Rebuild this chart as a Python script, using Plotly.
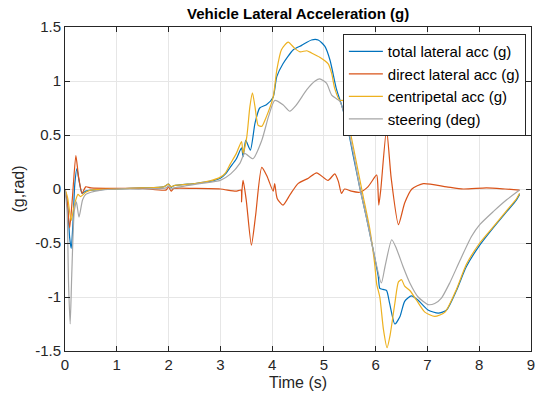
import plotly.graph_objects as go

t_total = [0, 0.05, 0.09, 0.12, 0.15, 0.19, 0.23, 0.27, 0.33, 0.4, 0.5, 0.7, 1.0, 1.5, 1.9, 2.0, 2.05, 2.1, 2.5, 2.8, 3.0, 3.1, 3.19, 3.31, 3.41, 3.44, 3.49, 3.58, 3.67, 3.76, 3.89, 4.02, 4.09, 4.21, 4.41, 4.57, 4.76, 4.89, 5.02, 5.12, 5.24, 5.34, 5.44, 5.57, 5.69, 5.82, 5.95, 6.05, 6.08, 6.14, 6.21, 6.27, 6.37, 6.47, 6.56, 6.69, 6.82, 7.01, 7.21, 7.37, 7.56, 7.75, 8.01, 8.27, 8.53, 8.72, 8.78]
y_total = [0, -0.15, -0.45, -0.55, -0.35, 0.05, 0.19, 0.08, -0.04, -0.02, -0.01, -0.005, 0, 0.01, 0.02, 0.045, 0.015, 0.03, 0.05, 0.07, 0.10, 0.14, 0.2, 0.28, 0.38, 0.30, 0.45, 0.36, 0.61, 0.75, 0.78, 0.85, 1.04, 1.16, 1.29, 1.33, 1.38, 1.38, 1.32, 1.19, 0.93, 0.78, 0.61, 0.30, 0.02, -0.26, -0.56, -0.81, -0.92, -0.93, -0.94, -1.06, -1.25, -1.18, -1.04, -0.99, -1.03, -1.12, -1.15, -1.12, -0.94, -0.72, -0.52, -0.36, -0.21, -0.10, -0.05]

t_direct = [0, 0.04, 0.09, 0.14, 0.21, 0.26, 0.33, 0.4, 0.5, 1.0, 1.5, 1.95, 2.0, 2.05, 2.1, 2.5, 3.0, 3.3, 3.40, 3.41, 3.42, 3.44, 3.5, 3.6, 3.68, 3.8, 3.9, 4.02, 4.05, 4.08, 4.1, 4.21, 4.35, 4.5, 4.7, 4.86, 5.08, 5.21, 5.28, 5.34, 5.4, 5.53, 5.69, 5.85, 6.02, 6.04, 6.06, 6.1, 6.21, 6.3, 6.44, 6.56, 6.7, 6.92, 7.37, 7.69, 8.14, 8.5, 8.78]
y_direct = [0, -0.1, -0.36, -0.1, 0.31, 0.12, -0.04, 0.02, 0.01, 0.005, 0.005, -0.01, 0.02, -0.02, 0.005, 0.005, 0.0, -0.02, -0.01, -0.12, 0.0, 0.08, -0.1, -0.52, -0.25, 0.20, 0.12, -0.02, 0.05, -0.05, -0.09, -0.15, -0.05, 0.05, 0.1, 0.15, 0.08, 0.14, 0.07, -0.04, 0.0, -0.02, -0.03, 0.02, 0.13, 0.05, -0.15, 0.0, 0.55, 0.1, -0.33, -0.13, 0.0, 0.05, 0.02, 0.0, 0.01, 0.0, -0.01]

t_centri = [0, 0.05, 0.12, 0.18, 0.25, 0.3, 0.4, 0.5, 1.0, 1.5, 1.9, 2.0, 2.05, 2.1, 2.5, 2.8, 3.0, 3.1, 3.19, 3.31, 3.41, 3.44, 3.51, 3.57, 3.62, 3.67, 3.73, 3.80, 3.89, 4.02, 4.09, 4.18, 4.31, 4.44, 4.54, 4.67, 4.76, 4.92, 5.08, 5.15, 5.21, 5.31, 5.37, 5.50, 5.63, 5.76, 5.89, 5.98, 6.02, 6.08, 6.15, 6.22, 6.28, 6.37, 6.44, 6.50, 6.56, 6.66, 6.79, 6.95, 7.14, 7.34, 7.56, 7.75, 8.01, 8.27, 8.53, 8.72, 8.78]
y_centri = [0, -0.08, -0.29, -0.15, -0.05, -0.07, -0.03, -0.01, 0, 0.01, 0.02, 0.045, 0.02, 0.03, 0.05, 0.075, 0.11, 0.15, 0.23, 0.33, 0.44, 0.33, 0.48, 0.76, 0.89, 0.76, 0.59, 0.58, 0.67, 0.85, 1.10, 1.29, 1.36, 1.30, 1.27, 1.28, 1.26, 1.22, 1.16, 1.07, 0.93, 0.82, 0.82, 0.55, 0.24, -0.07, -0.38, -0.69, -0.88, -1.0, -1.3, -1.47, -1.35, -1.06, -0.86, -0.84, -0.90, -0.94, -1.03, -1.14, -1.18, -1.14, -0.93, -0.70, -0.50, -0.35, -0.20, -0.09, -0.04]

t_steer = [0, 0.04, 0.07, 0.1, 0.13, 0.18, 0.22, 0.27, 0.34, 0.4, 0.5, 0.7, 1.0, 1.5, 1.95, 2.0, 2.05, 2.1, 2.6, 3.0, 3.2, 3.38, 3.47, 3.63, 3.80, 3.93, 4.05, 4.21, 4.34, 4.47, 4.67, 4.83, 4.92, 5.05, 5.15, 5.31, 5.44, 5.57, 5.69, 5.82, 5.95, 6.11, 6.18, 6.31, 6.40, 6.53, 6.66, 6.82, 7.01, 7.14, 7.27, 7.43, 7.63, 7.85, 8.01, 8.27, 8.53, 8.78]
y_steer = [0, -0.2, -0.9, -1.25, -0.8, -0.2, -0.12, -0.26, -0.1, -0.05, -0.03, -0.01, 0, 0.0, 0.01, 0.03, 0.0, 0.01, 0.05, 0.08, 0.14, 0.24, 0.33, 0.28, 0.45, 0.67, 0.82, 0.78, 0.72, 0.78, 0.92, 1.00, 1.02, 0.98, 0.87, 0.81, 0.61, 0.33, 0.02, -0.26, -0.56, -0.87, -0.72, -0.47, -0.55, -0.72, -0.87, -1.0, -1.07, -1.06, -1.01, -0.87, -0.66, -0.44, -0.33, -0.21, -0.10, -0.01]

names = ["total lateral acc (g)", "direct lateral acc (g)", "centripetal acc (g)", "steering (deg)"]
colors = ["#0072BD", "#D95319", "#EDB120", "#A6A6A6"]

x_ticks = [0, 1, 2, 3, 4, 5, 6, 7, 8, 9]
y_ticks = [-1.5, -1, -0.5, 0, 0.5, 1, 1.5]
y_tick_text = ["-1.5", "-1", "-0.5", "0", "0.5", "1", "1.5"]

FONT = "Liberation Sans, Arial"

fig = go.Figure()
series = [(t_total, y_total), (t_direct, y_direct), (t_centri, y_centri), (t_steer, y_steer)]
for (tx, ty), nm, c in zip(series, names, colors):
    fig.add_trace(go.Scatter(x=tx, y=ty, mode="lines", name=nm,
                             line=dict(color=c, width=1.2, shape="spline", smoothing=0.6)))

axis_common = dict(showline=True, linecolor="#262626", linewidth=1, mirror="ticks",
                   ticks="inside", ticklen=5, tickcolor="#262626", automargin=False,
                   showgrid=True, gridcolor="#E6E6E6", gridwidth=1, zeroline=False,
                   tickfont=dict(family=FONT, size=15, color="#262626"))

fig.update_xaxes(range=[0, 9], tickvals=x_ticks,
                 title=dict(text="Time (s)", font=dict(family=FONT, size=16, color="#262626"), standoff=4),
                 **axis_common)
fig.update_yaxes(range=[-1.5, 1.5], tickvals=y_ticks, ticktext=y_tick_text,
                 title=dict(text="(g,rad)", font=dict(family=FONT, size=16, color="#262626"), standoff=6),
                 **axis_common)

fig.update_layout(
    width=544, height=403,
    margin=dict(l=65, r=13, t=27, b=52),
    paper_bgcolor="white", plot_bgcolor="white",
    title=dict(text="<b>Vehicle Lateral Acceleration (g)</b>", x=0.548, xanchor="center", y=0.967, yanchor="middle",
               font=dict(family=FONT, size=15, color="black")),
    legend=dict(x=0.989, y=0.978, xanchor="right", yanchor="top",
                bgcolor="white", bordercolor="#262626", borderwidth=1,
                font=dict(family=FONT, size=15, color="black"),
                tracegroupgap=0, itemwidth=34),
    showlegend=True,
)

fig.write_html("out.html", config={"displayModeBar": False},
               post_script="document.body.style.margin='0';")
